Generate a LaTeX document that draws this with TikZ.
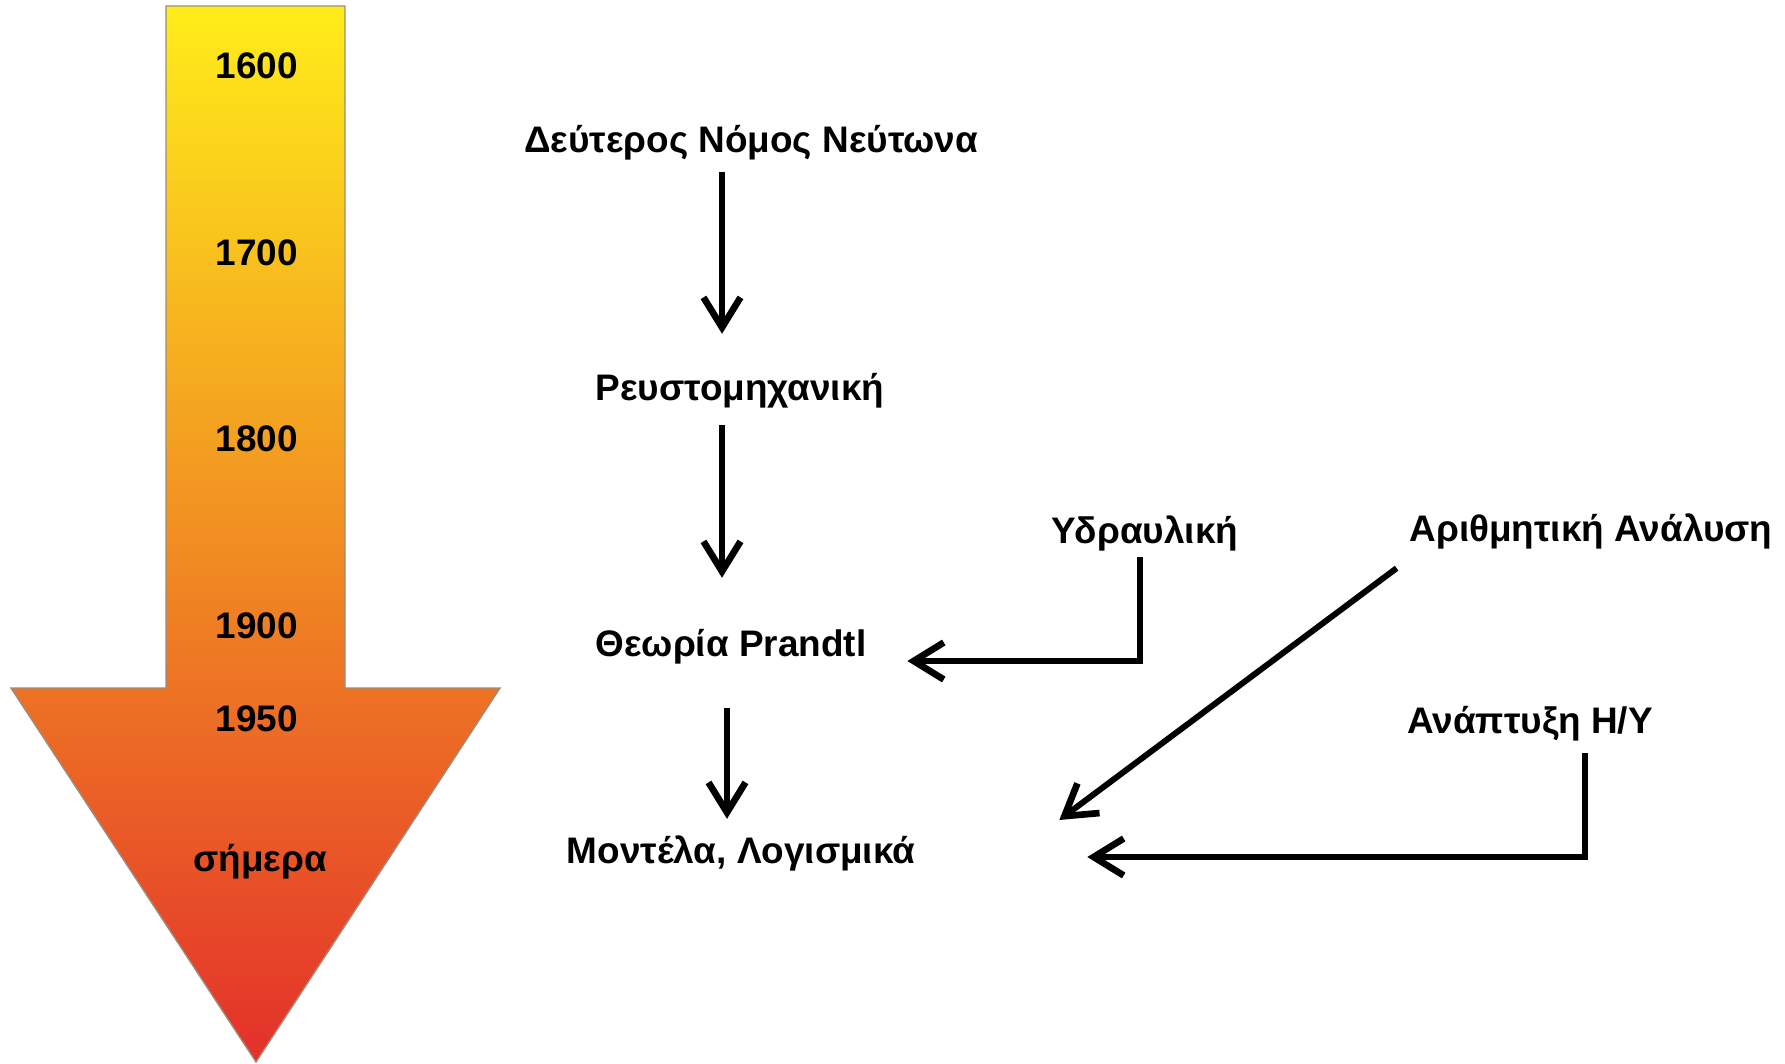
\documentclass[tikz,border=0pt]{standalone}
\usepackage{fontspec}
\setmainfont{Liberation Sans}
\usepackage{xcolor}
\usetikzlibrary{positioning,arrows.meta}
\definecolor{arrowtop}{HTML}{FFED1A}
\definecolor{arrowmid}{HTML}{F5952F}
\definecolor{arrowbot}{HTML}{E3302A}
\definecolor{arrowrim}{HTML}{9C8C7C}

\begin{document}
\begin{tikzpicture}[x=0.01cm, y=-0.01cm,
	lbl/.style={inner sep=0pt, outer sep=0pt, text height=7.5pt, text depth=0pt,
		font=\fontsize{10.5}{12}\selectfont\bfseries},
	flow/.style={line width=1.7pt, -{Straight Barb[length=3mm, width=3.7mm, line width=1.9pt]}}]
	\useasboundingbox (0,0) rectangle (1785,1064);

	\shade[top color=arrowtop, middle color=arrowmid, bottom color=arrowbot, draw=arrowrim, line width=0.4pt]
		(166,6) -- (345,6) -- (345,688) -- (500,688) -- (256,1062) -- (11,688) -- (166,688) -- cycle;

	\node[lbl] (y1600) at (257,65) {1600};
	\node[lbl] (y1700) at (257,252) {1700};
	\node[lbl] (y1800) at (257,438) {1800};
	\node[lbl] (y1900) at (257,625) {1900};
	\node[lbl] (y1950) at (257,718) {1950};
	\node[lbl] (today) at (260,858) {σήμερα};

	\node[lbl] (newton) at (751,139) {Δεύτερος Νόμος Νεύτωνα};
	\node[lbl] (fluids) at (740,387) {Ρευστομηχανική};
	\node[lbl] (prandtl) at (731,643) {Θεωρία Prandtl};
	\node[lbl] (models) at (741,850) {Μοντέλα, Λογισμικά};
	\node[lbl] (hydro) at (1145,530) {Υδραυλική};
	\node[lbl] (numan) at (1591,528) {Αριθμητική Ανάλυση};
	\node[lbl] (computers) at (1530,720) {Ανάπτυξη Η/Υ};

	\coordinate (col) at (722,0);
	\coordinate (col2) at (727,0);
	\coordinate (hcol) at (1140,0);
	\coordinate (ccol) at (1585,0);

	\draw[flow] ([yshift=-2mm]newton.south -| col) -- ([yshift=4mm]fluids.north -| col);
	\draw[flow] ([yshift=-2.5mm]fluids.south -| col) -- ([yshift=5.2mm]prandtl.north -| col);
	\draw[flow] ([yshift=-5.2mm]prandtl.south -| col2) -- ([yshift=1.8mm]models.north -| col2);
	\draw[flow] ([yshift=-1.4mm]hydro.south -| hcol) |- ([xshift=4.1mm, yshift=-1.8mm]prandtl.east);
	\draw[flow] ([xshift=-1.3mm, yshift=-2.7mm]numan.south west) -- ([xshift=14.4mm, yshift=3mm]models.east);
	\draw[flow] ([yshift=-2mm]computers.south -| ccol) |- ([xshift=17.2mm, yshift=-0.7mm]models.east);
\end{tikzpicture}
\end{document}
